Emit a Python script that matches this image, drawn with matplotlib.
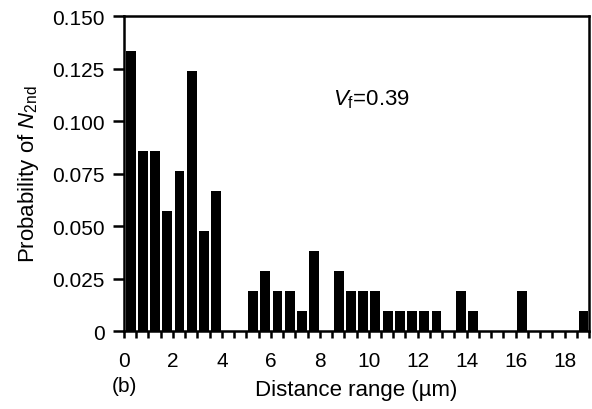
import numpy as np
import matplotlib
matplotlib.use('Agg')
import matplotlib.pyplot as plt
from matplotlib.ticker import MultipleLocator

# bin counts (0.5 um bins from 0 to 19 um), total of 105 fibres
bin_width = 0.5
counts = [14, 9, 9, 6, 8, 13, 5, 7, 0, 0,
          2, 3, 2, 2, 1, 4, 0, 3, 2, 2,
          2, 1, 1, 1, 1, 1, 0, 2, 1, 0,
          0, 0, 2, 0, 0, 0, 0, 1]
total = 105
prob = np.array(counts) / total
centers = (np.arange(len(counts)) + 0.5) * bin_width

y_ticks = [0, 0.025, 0.05, 0.075, 0.1, 0.125, 0.15]
y_tick_labels = ['0', '0.025', '0.050', '0.075', '0.100', '0.125', '0.150']

plt.rcParams['font.family'] = ['Liberation Sans', 'DejaVu Sans']
plt.rcParams['mathtext.fontset'] = 'custom'
plt.rcParams['mathtext.rm'] = 'Liberation Sans'
plt.rcParams['mathtext.it'] = 'Liberation Sans:italic'

fig = plt.figure(figsize=(5.92, 4.10), dpi=100)
ax = fig.add_axes([0.2095, 0.19, 0.7855, 0.7685])

ax.bar(centers + 0.02, prob, width=0.4, color='black', edgecolor='none')

ax.set_xlim(0, 19)
ax.set_ylim(0, 0.15)
ax.xaxis.set_major_locator(MultipleLocator(2))
ax.xaxis.set_minor_locator(MultipleLocator(0.5))
ax.set_yticks(y_ticks)
ax.set_yticklabels(y_tick_labels)

for s in ax.spines.values():
    s.set_linewidth(1.8)
ax.tick_params(axis='both', which='both', direction='out', width=1.8, labelsize=15, colors='black')
ax.tick_params(axis='x', which='both', length=5, pad=9)
ax.tick_params(axis='y', which='major', length=8, pad=6)

ax.set_xlabel('Distance range (µm)', fontsize=16, labelpad=7)
ax.set_ylabel('Probability of $N_{\\rm 2nd}$', fontsize=16, labelpad=8)

ax.text(8.55, 0.1105, '$V_{\\rm f}$=0.39', fontsize=16, va='center', ha='left')
fig.text(0.21, 0.058, '(b)', fontsize=15, ha='center', va='center')

fig.savefig('out.png', dpi=100)
